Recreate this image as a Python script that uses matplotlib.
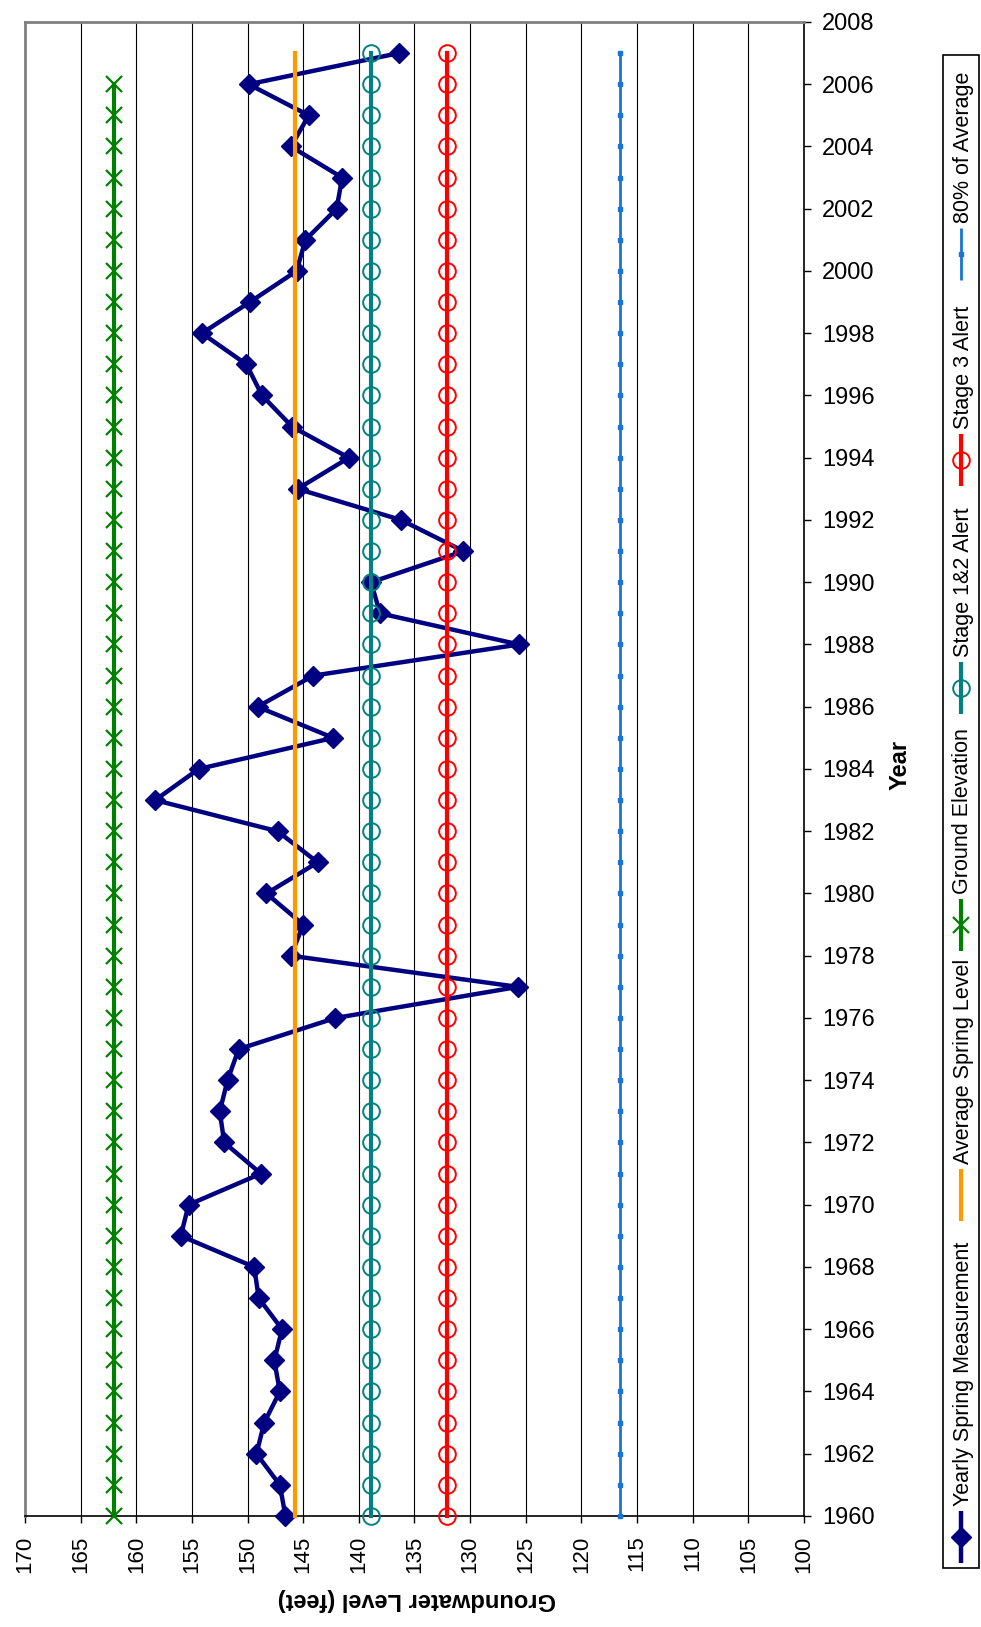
import matplotlib
matplotlib.use("Agg")
import matplotlib.pyplot as plt
from matplotlib.lines import Line2D
from matplotlib.patches import Rectangle

plt.rcParams['font.family'] = ['Liberation Sans', 'DejaVu Sans']

# ---- data -------------------------------------------------------------
years = list(range(1960, 2008))
spring_level = [
    146.6, 147.1, 149.2, 148.5, 147.1, 147.6, 146.9, 149.0, 149.4, 156.0,
    155.3, 148.8, 152.1, 152.5, 151.8, 150.8, 142.1, 125.7, 146.1, 145.0,
    148.3, 143.7, 147.3, 158.3, 154.4, 142.3, 149.1, 144.1, 125.6, 138.1,
    138.9, 130.6, 136.2, 145.5, 140.9, 146.0, 148.7, 150.1, 154.1, 149.8,
    145.6, 144.8, 142.0, 141.5, 146.1, 144.5, 149.9, 136.4,
]
average_level = 145.7
ground_elevation = 162.0
ground_years = list(range(1960, 2007))
stage12_alert = 138.9
stage3_alert = 132.1
pct80_level = 0.8 * average_level

value_ticks = list(range(100, 171, 5))
year_ticks = list(range(1960, 2009, 2))

series_names = ["Yearly Spring Measurement", "Average Spring Level",
                "Ground Elevation", "Stage 1&2 Alert", "Stage 3 Alert",
                "80% of Average"]

# ---- figure -----------------------------------------------------------
W, H = 981, 1627
fig = plt.figure(figsize=(W / 100, H / 100), dpi=100)


def fx(x):
    return x / W


def fy(y):
    return 1 - y / H


ax_left, ax_right, ax_top, ax_bottom = 25, 804, 22, 1516
ax = fig.add_axes([fx(ax_left), fy(ax_bottom),
                   (ax_right - ax_left) / W, (ax_bottom - ax_top) / H])

navy = "#000080"
orange = "#FF9900"
green = "#008000"
teal = "#008080"
red = "#FF0000"
blue = "#1874D6"

styles = [
    dict(color=navy, lw=3.2, marker="D", ms=10, mfc=navy, mec=navy),
    dict(color=orange, lw=3.0, marker=None),
    dict(color=green, lw=3.0, marker="x", ms=12, mew=1.6, mec=green),
    dict(color=teal, lw=3.0, marker="o", ms=12, mfc="none", mec=teal, mew=1.4),
    dict(color=red, lw=3.0, marker="o", ms=12, mfc="none", mec=red, mew=1.4),
    dict(color=blue, lw=2.0, marker="s", ms=3.5, mfc=blue, mec=blue),
]

n = len(years)
ax.plot(spring_level, years, clip_on=False, zorder=3, **styles[0])
ax.plot([average_level] * n, years, clip_on=False, zorder=4, **styles[1])
ax.plot([ground_elevation] * len(ground_years), ground_years,
        clip_on=False, zorder=5, **styles[2])
ax.plot([stage12_alert] * n, years, clip_on=False, zorder=6, **styles[3])
ax.plot([stage3_alert] * n, years, clip_on=False, zorder=7, **styles[4])
ax.plot([pct80_level] * n, years, clip_on=False, zorder=8, **styles[5])

ax.set_xlim(170, 100)
ax.set_ylim(1960, 2008)
ax.set_xticks(value_ticks)
ax.set_xticklabels([str(v) for v in value_ticks], rotation=90, fontsize=16)
ax.set_yticks(year_ticks)
ax.set_yticklabels([str(y) for y in year_ticks], fontsize=17)
ax.yaxis.tick_right()
ax.tick_params(axis="x", direction="out", length=5, width=1, pad=9)
ax.tick_params(axis="y", direction="out", length=5, width=1, pad=8)

ax.grid(axis="x", color="black", lw=0.8, zorder=1)
ax.set_axisbelow(True)

for side in ("top", "left"):
    ax.spines[side].set_color("#808080")
    ax.spines[side].set_linewidth(2)
for side in ("bottom", "right"):
    ax.spines[side].set_color("black")
    ax.spines[side].set_linewidth(1.2)

# axis titles
fig.text(fx(417), fy(1600), "Groundwater Level (feet)", rotation=180,
         ha="center", va="center", fontsize=17, fontweight="bold")
fig.text(fx(900), fy(765), "Year", rotation=90,
         ha="center", va="center", fontsize=17, fontweight="bold")

# ---- legend (vertical, reading bottom to top) ---------------------------
fig.add_artist(Rectangle((fx(943), fy(1568)), (979 - 943) / W, (1568 - 55) / H,
                         transform=fig.transFigure, fill=False,
                         edgecolor="black", lw=1.2))

handle_centres = [1537, 1195, 925, 688, 460, 254]
handle_x = 961
half = 26
for name, st, yc in zip(series_names, styles, handle_centres):
    line_kw = {k: v for k, v in st.items() if k not in ("marker", "ms", "mfc", "mec", "mew")}
    fig.add_artist(Line2D([fx(handle_x), fx(handle_x)], [fy(yc + half), fy(yc - half)],
                          transform=fig.transFigure, solid_capstyle="butt", **line_kw))
    if st.get("marker"):
        mk = {k: v for k, v in st.items() if k in ("marker", "ms", "mfc", "mec", "mew")}
        fig.add_artist(Line2D([fx(handle_x)], [fy(yc)], transform=fig.transFigure,
                              linestyle="none", **mk))
    fig.text(fx(963), fy(yc - half - 5), name, rotation=90, rotation_mode="anchor",
             ha="left", va="center", fontsize=15.5)

fig.savefig("out.png", dpi=100)
